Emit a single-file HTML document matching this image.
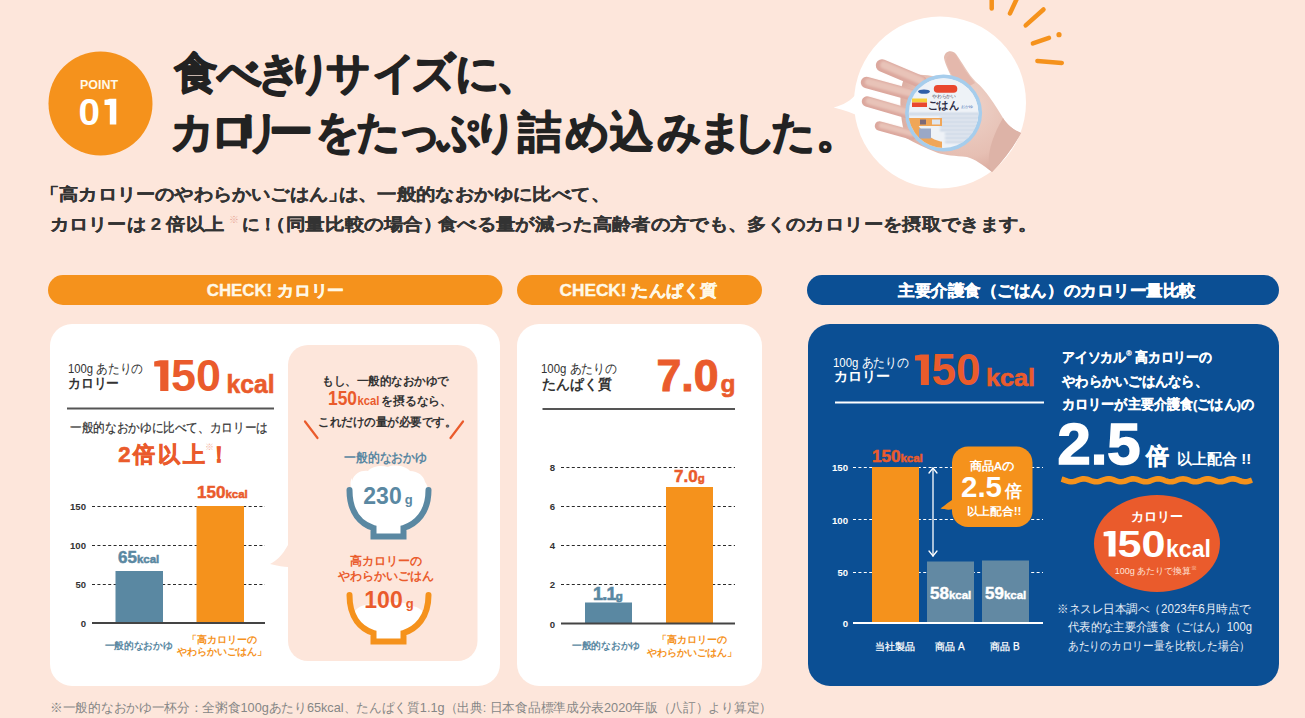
<!DOCTYPE html>
<html lang="ja">
<head>
<meta charset="utf-8">
<title>POINT 01</title>
<style>
html,body{margin:0;padding:0;}
body{width:1305px;height:718px;overflow:hidden;background:#fde6db;position:relative;font-family:"Liberation Sans",sans-serif;}
svg{position:absolute;left:0;top:0;}
text{font-family:"Liberation Sans",sans-serif;}
.b{font-weight:700;}
.st{stroke-linejoin:round;}
</style>
</head>
<body>
<svg width="1305" height="718" viewBox="0 0 1305 718">
<!-- ============ HEADER ============ -->
<g id="header">
  <circle cx="100.5" cy="103.5" r="52" fill="#f5921c"/>
  <text x="99" y="89" font-size="12.5" class="b" fill="#fff8e8" text-anchor="middle" textLength="38" lengthAdjust="spacingAndGlyphs">POINT</text>
  <text x="78.5" y="124.8" font-size="36" class="b" fill="#ffffff" textLength="21.5" lengthAdjust="spacingAndGlyphs">0</text>
  <path d="M109.8 98.7 L116.3 98.7 L116.3 124.6 L109.8 124.6 L109.8 105 L104.5 105 L104.5 99.8 Q107.5 99.5 109.8 98.7 Z" fill="#ffffff"/>

  <g fill="#222222" stroke="#222222" stroke-width="2.7" class="st" font-size="43.5">
    <text x="173.7 216.5 256.5 287.4 326.1 371.5 410.9 454.5 495.5" y="88">食べきりサイズに、</text>
    <text x="170.2 209.5 235.5 268.5 315.0 356.3 396.5 436.3 472.5 518.0 564.9 609.5 657.0 698.0 732.1 770.5 815.5" y="146.8">カロリーをたっぷり詰め込みました。</text>
  </g>

  <g fill="#333333" stroke="#333333" stroke-width="0.2" font-size="16.5" class="b">
    <text x="39.9" y="200" textLength="307.3" lengthAdjust="spacingAndGlyphs">「高カロリーのやわらかいごはん」</text>
    <text x="338.5" y="200" textLength="271.5" lengthAdjust="spacingAndGlyphs">は、一般的なおかゆに比べて、</text>
    <text x="50" y="230" textLength="173.8" lengthAdjust="spacingAndGlyphs">カロリーは 2 倍以上</text>
    <text x="228.5" y="223" font-size="10" font-weight="400" fill="#e8a898" stroke="none">※</text>
    <text x="241.5" y="230" textLength="35.3" lengthAdjust="spacingAndGlyphs">に！</text>
    <text x="266.3" y="230" textLength="176.3" lengthAdjust="spacingAndGlyphs">（同量比較の場合）</text>
    <text x="438" y="230" textLength="599.6" lengthAdjust="spacingAndGlyphs">食べる量が減った高齢者の方でも、多くのカロリーを摂取できます。</text>
  </g>

  <!-- rays -->
  <g stroke="#f5921c" stroke-width="4.5" stroke-linecap="round" fill="none">
    <line x1="991.7" y1="-2" x2="991.7" y2="8.4"/>
    <line x1="1016.7" y1="-1" x2="1010" y2="13.4"/>
    <line x1="1043.5" y1="9.5" x2="1025.7" y2="25.4"/>
    <line x1="1049" y1="37.9" x2="1032.9" y2="43.4"/>
    <line x1="1037.4" y1="61" x2="1061.8" y2="62.9"/>
  </g>
  <circle cx="1059" cy="34.7" r="2.6" fill="#f5921c"/>

  <!-- photo bubble -->
  <path d="M833.6 107.5 C843 105 851 101 857 93 L862 118 C853 113 844 110 833.6 107.5 Z" fill="#ffffff"/>
  <circle cx="940" cy="102.5" r="86" fill="#ffffff"/>
  <defs><clipPath id="bub"><circle cx="940" cy="102.5" r="86"/></clipPath></defs>
  <g id="hand">
    <defs>
      <filter id="soft" x="-20%" y="-20%" width="140%" height="140%"><feGaussianBlur stdDeviation="1.2"/></filter>
      <radialGradient id="palmg" cx="0.55" cy="0.45" r="0.6">
        <stop offset="0" stop-color="#eed3c9"/>
        <stop offset="0.7" stop-color="#e6bfb3"/>
        <stop offset="1" stop-color="#d9a89c"/>
      </radialGradient>
    </defs>
    <path d="M904 78 C915 72 935 74 955 84 C950 74 945 64 944 58 C944 51 952 49 956 54 C962 62 968 74 976 82 C986 90 995 105 1003 118 C1008 126 1014 130 1021 133 C1014 146 1004 160 992 172 C983 165 975 159 967 157 C955 156 945 155 938 153 C925 148 915 143 906 138 C900 120 898 95 904 78 Z" fill="url(#palmg)"/>
    <path d="M946 60 C949 52 955 52 957 57 C962 66 968 75 975 83 L962 90 C954 80 948 70 946 60 Z" fill="#e4b8ac"/>
    <g stroke="#dca89e" stroke-linecap="round" fill="none">
      <line x1="882" y1="65.5" x2="921" y2="82" stroke-width="12.5"/>
      <line x1="866.5" y1="82.5" x2="912" y2="95" stroke-width="11.5"/>
      <line x1="867" y1="101.5" x2="910" y2="114" stroke-width="10.5"/>
      <line x1="879.5" y1="126" x2="912" y2="135" stroke-width="9.5"/>
    </g>
    <g stroke="#e8c3b8" stroke-linecap="round" fill="none" filter="url(#soft)">
      <line x1="884" y1="65" x2="921" y2="80.5" stroke-width="7.5"/>
      <line x1="868.5" y1="82" x2="912" y2="93.5" stroke-width="7"/>
      <line x1="869" y1="101" x2="910" y2="112.5" stroke-width="6.5"/>
      <line x1="881.5" y1="125.5" x2="912" y2="133.5" stroke-width="5.5"/>
    </g>
    <path d="M1003 118 C1008 126 1014 130 1021 133 C1014 146 1004 160 992 172 C985 162 990 140 1003 118 Z" fill="#ddb3a7"/>
  </g>
  <g id="cup">
    <defs><clipPath id="lid"><circle cx="943.6" cy="113.1" r="34.8"/></clipPath></defs>
    <circle cx="943.6" cy="113.1" r="38.5" fill="#a6cdec"/>
    <circle cx="943.6" cy="113.1" r="34.8" fill="#eef2f7"/>
    <g clip-path="url(#lid)">
      <rect x="905" y="118" width="37" height="42" fill="#f0a658"/>
      <circle cx="947" cy="109" r="33" fill="#eef2f7"/>
      <g stroke="#c3cfe0" stroke-width="1.8" filter="url(#soft)">
        <line x1="908" y1="114" x2="980" y2="114"/>
        <line x1="940" y1="118" x2="980" y2="118"/>
        <line x1="940" y1="122" x2="980" y2="122"/>
        <line x1="940" y1="126" x2="980" y2="126"/>
        <line x1="940" y1="130" x2="980" y2="130"/>
        <line x1="945" y1="134" x2="980" y2="134"/>
        <line x1="945" y1="138" x2="980" y2="138"/>
        <line x1="945" y1="142" x2="975" y2="142"/>
      </g>
      <rect x="905" y="118" width="37" height="8" fill="#f0a658"/>
      <rect x="919" y="128.5" width="12" height="10" fill="#9aa8c6"/>
      <rect x="920" y="119.5" width="6" height="5" fill="#7d6a78"/>
      <rect x="932" y="119.5" width="8" height="5" fill="#dfe6f0"/>
    </g>
    <rect x="933.8" y="85" width="23.5" height="7.7" rx="3.8" fill="#e9472e"/>
    <ellipse cx="924" cy="91.6" rx="6" ry="2.2" fill="#2f5ea8"/>
    <rect x="912" y="98.5" width="15" height="4" fill="#f6cf3a"/>
    <rect x="912" y="102.5" width="15" height="4.5" fill="#e9472e"/>
    <text x="928" y="109" font-size="10.5" class="b" fill="#2a2a44" textLength="31" lengthAdjust="spacingAndGlyphs">ごはん</text>
    <text x="932" y="98" font-size="4.5" fill="#445" textLength="24" lengthAdjust="spacingAndGlyphs">やわらかい</text>
    <text x="961" y="108" font-size="4" fill="#3a6ab0">おかゆ</text>
  </g>
</g>

<!-- ============ PILLS ============ -->
<g id="pills">
  <rect x="48" y="275" width="454.5" height="30" rx="15" fill="#f5921c"/>
  <text x="275.5" y="296" font-size="16" class="b" fill="#fff8e6" stroke="#fff8e6" stroke-width="0.35" text-anchor="middle" textLength="137.5" lengthAdjust="spacingAndGlyphs">CHECK! カロリー</text>
  <rect x="517" y="275" width="245" height="30" rx="15" fill="#f5921c"/>
  <text x="638.5" y="296" font-size="16" class="b" fill="#fff8e6" stroke="#fff8e6" stroke-width="0.35" text-anchor="middle" textLength="158" lengthAdjust="spacingAndGlyphs">CHECK! たんぱく質</text>
  <rect x="807" y="275" width="472" height="30" rx="15" fill="#0b4f94"/>
  <text x="1047" y="296" font-size="16" class="b" fill="#ffffff" stroke="#ffffff" stroke-width="0.35" text-anchor="middle" textLength="298" lengthAdjust="spacingAndGlyphs">主要介護食（ごはん）のカロリー量比較</text>
</g>

<!-- ============ CARD 1 ============ -->
<g id="card1">
  <rect x="50" y="324" width="450" height="362" rx="22" fill="#ffffff"/>
  <text x="68" y="373" font-size="12.5" fill="#333" textLength="75" lengthAdjust="spacingAndGlyphs">100g あたりの</text>
  <text x="68" y="388" font-size="14" class="b" fill="#333" textLength="51" lengthAdjust="spacingAndGlyphs">カロリー</text>
  <path d="M160.2 360.2 L168.4 360.2 L168.4 391.0 L160.2 391.0 L160.2 366.4 L154.2 366.4 L154.2 361.4 Q158.2 360.8 160.2 360.2 Z" fill="#ea5b2c"/>
  <text x="171" y="391" font-size="44.5" class="b" fill="#ea5b2c" textLength="50" lengthAdjust="spacingAndGlyphs">50</text>
  <text x="226.5" y="392.5" font-size="25" class="b" fill="#ea5b2c" stroke="#ea5b2c" stroke-width="0.6" textLength="48" lengthAdjust="spacingAndGlyphs">kcal</text>
  <rect x="67" y="407.5" width="207" height="2" fill="#555"/>
  <text x="70" y="432" font-size="12.5" fill="#333" stroke="#333" stroke-width="0.2" textLength="198" lengthAdjust="spacingAndGlyphs">一般的なおかゆに比べて、カロリーは</text>
  <g fill="#ea5b2c" stroke="#ea5b2c" stroke-width="0.7" class="b" font-size="22">
    <text x="118.3" y="462" textLength="87" lengthAdjust="spacing">2倍以上</text>
    <text x="208" y="462">！</text>
  </g>
  <text x="205" y="450" font-size="9" fill="#f2b3a0">※</text>

  <!-- chart -->
  <g stroke="#2a2a2a" stroke-width="1.1" stroke-dasharray="3 2.4">
    <line x1="92" y1="506.5" x2="265" y2="506.5"/>
    <line x1="92" y1="545.5" x2="265" y2="545.5"/>
    <line x1="92" y1="584.5" x2="265" y2="584.5"/>
  </g>
  <rect x="115.5" y="571" width="47.5" height="52" fill="#5a88a2"/>
  <rect x="196.5" y="506" width="47.5" height="117" fill="#f5921c"/>
  <rect x="92" y="622" width="173" height="2" fill="#444"/>
  <g font-size="9.6" class="b" fill="#333" text-anchor="end">
    <text x="86" y="510" textLength="16" lengthAdjust="spacingAndGlyphs">150</text>
    <text x="86" y="549" textLength="16" lengthAdjust="spacingAndGlyphs">100</text>
    <text x="86" y="588" textLength="10.5" lengthAdjust="spacingAndGlyphs">50</text>
    <text x="86" y="627">0</text>
  </g>
  <text x="118" y="563" font-size="17" class="b" fill="#5a88a2" stroke="#5a88a2" stroke-width="0.5">65<tspan font-size="11.5">kcal</tspan></text>
  <text x="197" y="498" font-size="17" class="b" fill="#ea5b2c" stroke="#ea5b2c" stroke-width="0.5">150<tspan font-size="11.5">kcal</tspan></text>
  <text x="138.5" y="649" font-size="10" fill="#5a88a2" text-anchor="middle" class="b" textLength="68" lengthAdjust="spacingAndGlyphs">一般的なおかゆ</text>
  <text x="221.5" y="643" font-size="10" fill="#f5921c" text-anchor="middle" class="b">「高カロリーの</text>
  <text x="221.5" y="655" font-size="10" fill="#f5921c" text-anchor="middle" class="b">やわらかいごはん」</text>

  <!-- bubble -->
  <path d="M288 545 C282 556 276 561 270 564 C278 566 284 567 288 567 Z" fill="#fde6db"/>
  <rect x="288" y="345" width="189.5" height="316" rx="20" fill="#fde6db"/>
  <g font-size="12" class="b" fill="#333" text-anchor="middle">
    <text x="322" y="385" text-anchor="start" textLength="127" lengthAdjust="spacingAndGlyphs">もし、一般的なおかゆで</text>
    <text x="328" y="405" text-anchor="start" fill="#ea5b2c" font-size="20" textLength="29" lengthAdjust="spacingAndGlyphs">150</text>
    <text x="357.5" y="405" text-anchor="start" fill="#ea5b2c" font-size="12.5" textLength="22" lengthAdjust="spacingAndGlyphs">kcal</text>
    <text x="381.3" y="405" text-anchor="start" textLength="70.8" lengthAdjust="spacingAndGlyphs">を摂るなら、</text>
    <text x="318" y="425.5" text-anchor="start" textLength="138" lengthAdjust="spacingAndGlyphs">これだけの量が必要です。</text>
  </g>
  <g stroke="#ea5b2c" stroke-width="2.2" stroke-linecap="round">
    <line x1="305" y1="421.5" x2="317.5" y2="438"/>
    <line x1="463" y1="421.5" x2="450.5" y2="438"/>
  </g>
  <text x="344" y="462" font-size="12.5" class="b" fill="#5a88a2" textLength="83" lengthAdjust="spacingAndGlyphs">一般的なおかゆ</text>
  <!-- blue bowl -->
  <path d="M352 481 C354 473 362 470 368 471 C372 466 382 465 388 467 C394 464 406 466 410 471 C418 471 424 476 425 482 C428 486 428 488 426 490 C426 510 415 523 401 527 L376 527 C362 523 352 510 352 490 C350 486 350 481 352 478 Z" fill="#ffffff"/>
  <rect x="375" y="525" width="27" height="9" fill="#ffffff"/>
  <path d="M349.5 490 C349.5 513 361 524 373.5 528 L373.5 536.5 L403.5 536.5 L403.5 528 C416 524 428.5 513 428.5 490" fill="none" stroke="#5a88a2" stroke-width="6" stroke-linecap="round" stroke-linejoin="miter"/>
  <text x="388" y="504" font-size="23" class="b" fill="#5a88a2" text-anchor="middle">230<tspan font-size="13" dx="3">g</tspan></text>
  <text x="385.5" y="565" font-size="11.5" class="b" fill="#ea5b2c" text-anchor="middle">高カロリーの</text>
  <text x="385.5" y="580" font-size="11.5" class="b" fill="#ea5b2c" text-anchor="middle">やわらかいごはん</text>
  <!-- orange bowl -->
  <path d="M354 612 C360 604 372 603 380 605 C390 600 404 602 412 606 C418 607 423 610 424 614 C420 624 412 630 401 632 L376 632 C365 629 357 621 354 612 Z" fill="#ffffff"/>
  <rect x="375" y="630" width="27" height="9" fill="#ffffff"/>
  <path d="M349.5 595 C349.5 618 361 629 373.5 633 L373.5 641.5 L403.5 641.5 L403.5 633 C416 629 428.5 618 428.5 595" fill="none" stroke="#f5921c" stroke-width="6" stroke-linecap="round" stroke-linejoin="miter"/>
  <text x="389" y="608" font-size="23" class="b" fill="#ea5b2c" text-anchor="middle">100<tspan font-size="13" dx="3">g</tspan></text>
</g>

<!-- ============ CARD 2 ============ -->
<g id="card2">
  <rect x="517" y="324" width="245" height="362" rx="22" fill="#ffffff"/>
  <text x="541" y="373" font-size="12.5" fill="#333" textLength="76" lengthAdjust="spacingAndGlyphs">100g あたりの</text>
  <text x="542" y="389" font-size="14" class="b" fill="#333">たんぱく質</text>
  <text x="656.5" y="390.5" font-size="43.5" class="b" fill="#ea5b2c" stroke="#ea5b2c" stroke-width="1" textLength="62" lengthAdjust="spacingAndGlyphs">7.0</text>
  <text x="720.5" y="392" font-size="24.5" class="b" fill="#ea5b2c" stroke="#ea5b2c" stroke-width="0.6" textLength="15" lengthAdjust="spacingAndGlyphs">g</text>
  <rect x="542.5" y="408" width="192.5" height="2" fill="#555"/>
  <g stroke="#2a2a2a" stroke-width="1.1" stroke-dasharray="3 2.4">
    <line x1="561" y1="467.5" x2="735" y2="467.5"/>
    <line x1="561" y1="506.5" x2="735" y2="506.5"/>
    <line x1="561" y1="545.5" x2="735" y2="545.5"/>
    <line x1="561" y1="584.5" x2="735" y2="584.5"/>
  </g>
  <rect x="585" y="602.5" width="47" height="21" fill="#5a88a2"/>
  <rect x="666" y="487" width="47" height="136.5" fill="#f5921c"/>
  <rect x="561" y="622.5" width="174" height="2" fill="#444"/>
  <g font-size="9.6" class="b" fill="#333" text-anchor="end">
    <text x="555" y="471">8</text>
    <text x="555" y="510">6</text>
    <text x="555" y="549">4</text>
    <text x="555" y="588">2</text>
    <text x="555" y="627.5">0</text>
  </g>
  <text x="593" y="600" font-size="18" class="b" fill="#5a88a2" stroke="#5a88a2" stroke-width="0.6" letter-spacing="-0.8">1.1<tspan font-size="11.5">g</tspan></text>
  <text x="674" y="482" font-size="17" class="b" fill="#ea5b2c" stroke="#ea5b2c" stroke-width="0.5">7.0<tspan font-size="11.5">g</tspan></text>
  <text x="606" y="649" font-size="10" fill="#5a88a2" text-anchor="middle" class="b" textLength="68" lengthAdjust="spacingAndGlyphs">一般的なおかゆ</text>
  <text x="692" y="642.5" font-size="10" fill="#f5921c" text-anchor="middle" class="b">「高カロリーの</text>
  <text x="692" y="656" font-size="10" fill="#f5921c" text-anchor="middle" class="b">やわらかいごはん」</text>
</g>

<!-- ============ CARD 3 ============ -->
<g id="card3">
  <rect x="808" y="324" width="471" height="362" rx="22" fill="#0b4f94"/>
  <text x="833" y="366.5" font-size="12.5" fill="#ffffff" textLength="76" lengthAdjust="spacingAndGlyphs">100g あたりの</text>
  <text x="834" y="381" font-size="14" class="b" fill="#ffffff">カロリー</text>
  <path d="M920.9 354.4 L928.9 354.4 L928.9 385.0 L920.9 385.0 L920.9 360.5 L915.0 360.5 L915.0 355.6 Q918.9 355.0 920.9 354.4 Z" fill="#ea5b2c"/>
  <text x="931.5" y="385" font-size="44" class="b" fill="#ea5b2c" textLength="49" lengthAdjust="spacingAndGlyphs">50</text>
  <text x="986" y="385.5" font-size="24" class="b" fill="#ea5b2c" stroke="#ea5b2c" stroke-width="0.6" textLength="49" lengthAdjust="spacingAndGlyphs">kcal</text>
  <rect x="835" y="401.5" width="209" height="2" fill="#ffffff"/>

  <g font-size="13.5" class="b" fill="#ffffff" stroke="#ffffff" stroke-width="0.25">
    <text x="1062" y="362" textLength="150" lengthAdjust="spacingAndGlyphs">アイソカル<tspan font-size="8" dy="-6">®</tspan><tspan dy="6"> 高カロリーの</tspan></text>
    <text x="1062" y="386" textLength="146" lengthAdjust="spacingAndGlyphs">やわらかいごはんなら、</text>
    <text x="1062" y="409" textLength="192" lengthAdjust="spacingAndGlyphs">カロリーが主要介護食(ごはん)の</text>
  </g>
  <text x="1057.5" y="463.5" font-size="58" class="b" fill="#ffffff" stroke="#ffffff" stroke-width="1.6" textLength="83" lengthAdjust="spacingAndGlyphs">2.5</text>
  <text x="1146" y="464" font-size="23" class="b" fill="#ffffff" stroke="#ffffff" stroke-width="0.5">倍</text>
  <text x="1177" y="464" font-size="15" class="b" fill="#ffffff">以上配合 !!</text>
  <path d="M1061.5 479.09 L1063.0 479.51 L1064.5 480.04 L1066.0 480.60 L1067.5 481.13 L1069.0 481.53 L1070.5 481.76 L1072.0 481.78 L1073.5 481.59 L1075.0 481.22 L1076.5 480.71 L1078.0 480.15 L1079.5 479.61 L1081.0 479.16 L1082.5 478.88 L1084.0 478.80 L1085.5 478.94 L1087.0 479.27 L1088.5 479.74 L1090.0 480.30 L1091.5 480.86 L1093.0 481.33 L1094.5 481.66 L1096.0 481.80 L1097.5 481.72 L1099.0 481.44 L1100.5 480.99 L1102.0 480.45 L1103.5 479.89 L1105.0 479.38 L1106.5 479.01 L1108.0 478.82 L1109.5 478.84 L1111.0 479.07 L1112.5 479.47 L1114.0 480.00 L1115.5 480.56 L1117.0 481.09 L1118.5 481.51 L1120.0 481.75 L1121.5 481.79 L1123.0 481.61 L1124.5 481.25 L1126.0 480.75 L1127.5 480.19 L1129.0 479.64 L1130.5 479.19 L1132.0 478.89 L1133.5 478.80 L1135.0 478.92 L1136.5 479.24 L1138.0 479.71 L1139.5 480.26 L1141.0 480.82 L1142.5 481.31 L1144.0 481.65 L1145.5 481.80 L1147.0 481.73 L1148.5 481.46 L1150.0 481.03 L1151.5 480.49 L1153.0 479.92 L1154.5 479.41 L1156.0 479.03 L1157.5 478.82 L1159.0 478.83 L1160.5 479.05 L1162.0 479.44 L1163.5 479.96 L1165.0 480.53 L1166.5 481.06 L1168.0 481.49 L1169.5 481.74 L1171.0 481.79 L1172.5 481.63 L1174.0 481.28 L1175.5 480.79 L1177.0 480.22 L1178.5 479.67 L1180.0 479.21 L1181.5 478.91 L1183.0 478.80 L1184.5 478.91 L1186.0 479.21 L1187.5 479.67 L1189.0 480.22 L1190.5 480.79 L1192.0 481.28 L1193.5 481.63 L1195.0 481.79 L1196.5 481.74 L1198.0 481.49 L1199.5 481.06 L1201.0 480.53 L1202.5 479.96 L1204.0 479.44 L1205.5 479.05 L1207.0 478.83 L1208.5 478.82 L1210.0 479.03 L1211.5 479.41 L1213.0 479.92 L1214.5 480.49 L1216.0 481.03 L1217.5 481.46 L1219.0 481.73 L1220.5 481.80 L1222.0 481.65 L1223.5 481.31 L1225.0 480.82 L1226.5 480.26 L1228.0 479.71 L1229.5 479.24 L1231.0 478.92 L1232.5 478.80 L1234.0 478.89 L1235.5 479.19 L1237.0 479.64 L1238.5 480.19 L1240.0 480.75 L1241.5 481.25 L1243.0 481.61 L1244.5 481.79 L1246.0 481.75 L1247.5 481.51 L1249.0 481.09 L1250.5 480.56 L1252.0 480.00" fill="none" stroke="#f5921c" stroke-width="5.6"/>
  <ellipse cx="1157" cy="543.5" rx="63" ry="48.5" fill="#ea5b2c"/>
  <text x="1157" y="521" font-size="13" class="b" fill="#ffffff" text-anchor="middle">カロリー</text>
  <path d="M1108.6 531.0 L1115.5 531.0 L1115.5 556.5 L1108.6 556.5 L1108.6 536.2 L1103.6 536.2 L1103.6 532.0 Q1106.9 531.5 1108.6 531.0 Z" fill="#ffffff"/>
  <text x="1117.5" y="556.5" font-size="36" class="b" fill="#ffffff" textLength="48" lengthAdjust="spacingAndGlyphs">50</text>
  <text x="1166" y="556.5" font-size="23" class="b" fill="#ffffff" textLength="45" lengthAdjust="spacingAndGlyphs">kcal</text>
  <text x="1156" y="574" font-size="9" fill="#ffe3d8" text-anchor="middle">100g あたりで換算<tspan font-size="6" dy="-4">※</tspan></text>

  <!-- chart -->
  <g stroke="#ffffff" stroke-width="1.1" stroke-dasharray="3 2.4">
    <line x1="853" y1="467.5" x2="1043" y2="467.5"/>
    <line x1="853" y1="519.5" x2="1043" y2="519.5"/>
    <line x1="853" y1="572.5" x2="1043" y2="572.5"/>
  </g>
  <rect x="872" y="467" width="47" height="156" fill="#f5921c"/>
  <rect x="927" y="561.5" width="47" height="61.5" fill="#6289a3"/>
  <rect x="982" y="560.5" width="47" height="62.5" fill="#6289a3"/>
  <rect x="853" y="622" width="190" height="2" fill="#ffffff"/>
  <g font-size="9.6" class="b" fill="#ffffff" text-anchor="end">
    <text x="848" y="471" textLength="16" lengthAdjust="spacingAndGlyphs">150</text>
    <text x="848" y="523.5" textLength="16" lengthAdjust="spacingAndGlyphs">100</text>
    <text x="848" y="576" textLength="10.5" lengthAdjust="spacingAndGlyphs">50</text>
    <text x="848" y="627">0</text>
  </g>
  <text x="872" y="462" font-size="17" class="b" fill="#ea5b2c" stroke="#ea5b2c" stroke-width="0.5">150<tspan font-size="11.5">kcal</tspan></text>
  <text x="930" y="599" font-size="17" class="b" fill="#ffffff" stroke="#ffffff" stroke-width="0.4">58<tspan font-size="11.5">kcal</tspan></text>
  <text x="985" y="599" font-size="17" class="b" fill="#ffffff" stroke="#ffffff" stroke-width="0.4">59<tspan font-size="11.5">kcal</tspan></text>
  <g stroke="#ffffff" stroke-width="1.3" fill="none" stroke-linecap="round">
    <line x1="933" y1="468" x2="933" y2="556"/>
    <polyline points="929,473 933,468 937,473"/>
    <polyline points="929,551 933,556 937,551"/>
  </g>
  <path d="M952 500 C946 504 943 507 940.5 508.5 C946 510 950 510 953 509 Z" fill="#f5921c"/>
  <rect x="952" y="446.5" width="80.5" height="80.5" rx="16" fill="#f5921c"/>
  <text x="992" y="470" font-size="11.5" class="b" fill="#ffffff" text-anchor="middle" textLength="45" lengthAdjust="spacingAndGlyphs">商品Aの</text>
  <text x="961" y="497" font-size="29" class="b" fill="#ffffff" textLength="41" lengthAdjust="spacingAndGlyphs">2.5</text>
  <text x="1005" y="497" font-size="17" class="b" fill="#ffffff">倍</text>
  <text x="994" y="515" font-size="11" class="b" fill="#ffffff" text-anchor="middle" textLength="55" lengthAdjust="spacingAndGlyphs">以上配合!!</text>
  <g font-size="10" fill="#ffffff" stroke="#ffffff" stroke-width="0.25" text-anchor="middle">
    <text x="895" y="650">当社製品</text>
    <text x="950" y="650">商品 A</text>
    <text x="1005" y="650">商品 B</text>
  </g>
  <g font-size="12" fill="#e8eef6">
    <text x="1057" y="612.5" textLength="194" lengthAdjust="spacingAndGlyphs">※ネスレ日本調べ（2023年6月時点で</text>
    <text x="1068" y="631" textLength="184" lengthAdjust="spacingAndGlyphs">代表的な主要介護食（ごはん）100g</text>
    <text x="1068" y="649.5" textLength="182" lengthAdjust="spacingAndGlyphs">あたりのカロリー量を比較した場合）</text>
  </g>
</g>

<!-- ============ FOOTNOTE ============ -->
<text x="50" y="711.5" font-size="13" fill="#868686" textLength="722" lengthAdjust="spacingAndGlyphs">※一般的なおかゆ一杯分：全粥食100gあたり65kcal、たんぱく質1.1g（出典: 日本食品標準成分表2020年版（八訂）より算定）</text>
</svg>
</body>
</html>
